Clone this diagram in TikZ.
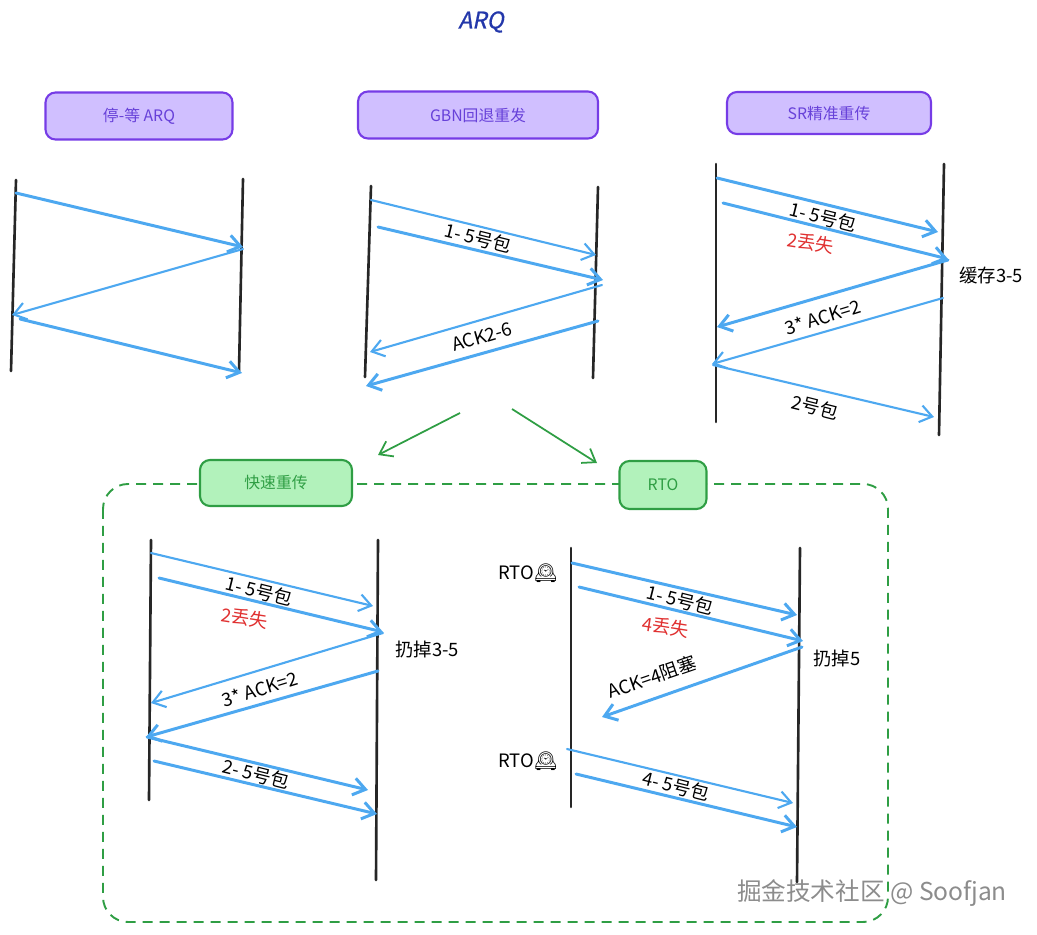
\documentclass[tikz,border=0pt]{standalone}
\usepackage{fontspec}
\setmainfont{Noto Sans CJK SC}
\newfontfamily\emojifont{Noto Emoji}
\newfontfamily\titlefont[FakeSlant=0.2, FakeBold=1]{Noto Sans CJK SC}
\usetikzlibrary{arrows.meta}
\definecolor{cus-blue}{RGB}{77,168,240}
\definecolor{cus-purp}{RGB}{208,191,255}
\definecolor{cus-purp1}{RGB}{118,60,230}
\definecolor{cus-purp2}{RGB}{103,65,217}
\definecolor{cus-green}{RGB}{178,242,187}
\definecolor{cus-green1}{RGB}{47,158,68}
\definecolor{cus-red}{RGB}{224,49,49}
\definecolor{cus-navy}{RGB}{35,55,170}
\definecolor{cus-grey}{RGB}{140,140,140}
\newcommand{\rtoclock}{RTO{\emojifont 🕰}}
\tikzset{
	life/.style={line width=1.5pt, black!85, line cap=round},
	msg/.style={cus-blue, line width=1.2pt, line cap=round, -{Straight Barb[length=0.24cm,width=0.34cm]}},
	msgb/.style={msg, line width=1.7pt},
	lbl/.style={font=\fontsize{10.5}{12}\selectfont, inner sep=0pt},
	lost/.style={lbl, text=cus-red},
	purpbox/.style={draw=cus-purp1, fill=cus-purp, line width=1.2pt, rounded corners=0.2cm, text=cus-purp2, font=\fontsize{9}{10}\selectfont},
	greenbox/.style={draw=cus-green1, fill=cus-green, line width=1.2pt, rounded corners=0.2cm, text=cus-green1, font=\fontsize{9}{10}\selectfont},
	group/.style={cus-green1, dash pattern=on 0.2cm off 0.14cm, line width=1.1pt, rounded corners=0.5cm},
	flow/.style={cus-green1, line width=1pt, -{Straight Barb[length=0.24cm,width=0.34cm]}},
}

\begin{document}
\begin{tikzpicture}[x=0.02cm, y=-0.02cm]
\useasboundingbox (0,0) rectangle (1037,935);
\node [text=cus-navy, font=\fontsize{13}{15}\titlefont] (title) at (481,22) {ARQ};

% protocol boxes
\node [purpbox, minimum width=3.74cm, minimum height=0.94cm] (saw) at (139,116) {停-等 ARQ};
\node [purpbox, minimum width=4.8cm, minimum height=0.94cm] (gbn) at (478,115) {GBN回退重发};
\node [purpbox, minimum width=4.08cm, minimum height=0.84cm] (sr) at (829,113) {SR精准重传};

% stop and wait
\draw [life] (16,180) -- (11,371);
\draw [life] (243,179) -- (239,371);
\draw [msgb] (16,193) -- (243,247);
\draw [msg] (243,249) -- (12,315);
\draw [msgb] (20,319) -- (242,373);

% go back n
\draw [life] (371,186) -- (365,377);
\draw [life] (598,187) -- (593,378);
\draw [msg] (371,200) -- (596,255);
\draw [msgb] (378,227) -- (603,280);
\draw [msg] (602,285) -- (370,352);
\draw [msgb] (598,321) -- (366,386);
\node [lbl, rotate=-14] (gbnsend) at (478,238) {1- 5号包};
\node [lbl, rotate=16] (gbnack) at (482,337) {ACK2-6};

% selective repeat
\draw [life] (716,164) -- (716,422);
\draw [life] (944,164) -- (939,435);
\draw [msgb] (717,178) -- (938,232);
\draw [msgb] (723,203) -- (948,259);
\draw [msgb] (948,260) -- (717,327);
\draw [msg] (943,298) -- (712,364);
\draw [msg] (713,365) -- (934,417);
\node [lbl, rotate=-14] (srsend) at (823,217) {1- 5号包};
\node [lost, rotate=-9] (srlost) at (811,243) {2丢失};
\node [lbl] (srbuf) at (991,276) {缓存3-5};
\node [lbl, rotate=17] (srack) at (823,317) {3* ACK=2};
\node [lbl, rotate=-14] (srresend) at (815,407) {2号包};

% gbn splits into two
\coordinate (splitl) at (460,413);
\coordinate (splitr) at (512,409);
\coordinate (fastin) at (378,455);
\coordinate (rtoin) at (597,463);
\draw [flow] (splitl) -- (fastin);
\draw [flow] (splitr) -- (rtoin);

\draw [group] (103,484) rectangle (888,922);
\node [greenbox, minimum width=3.04cm, minimum height=0.92cm] (fastre) at (276,483) {快速重传};
\node [greenbox, minimum width=1.74cm, minimum height=0.96cm] (rto) at (663,485) {RTO};

% fast retransmit
\draw [life] (151,540) -- (149,800);
\draw [life] (378,540) -- (376,880);
\draw [msg] (151,553) -- (373,606);
\draw [msgb] (159,578) -- (383,632);
\draw [msg] (383,633) -- (151,703);
\draw [msgb] (378,671) -- (146,737);
\draw [msgb] (147,737) -- (368,790);
\draw [msgb] (154,761) -- (377,814);
\node [lbl, rotate=-14] (fastsend) at (259,591) {1- 5号包};
\node [lost, rotate=-9] (fastlost) at (245,618) {2丢失};
\node [lbl] (fastdrop) at (427,650) {扔掉3-5};
\node [lbl, rotate=17] (fastack) at (260,689) {3* ACK=2};
\node [lbl, rotate=-14] (fastresend) at (256,774) {2- 5号包};

% retransmission timeout
\draw [life] (571,548) -- (571,807);
\draw [life] (800,548) -- (797,882);
\draw [msgb] (572,563) -- (797,615);
\draw [msgb] (579,587) -- (803,641);
\draw [msgb] (802,647) -- (602,717);
\draw [msg] (567,749) -- (793,803);
\draw [msgb] (576,774) -- (797,827);
\node [lbl] (rtoa) at (528,573) {\rtoclock};
\node [lbl] (rtob) at (528,761) {\rtoclock};
\node [lbl, rotate=-14] (rtosend) at (680,600) {1- 5号包};
\node [lost, rotate=-9] (rtolost) at (666,627) {4丢失};
\node [lbl] (rtodrop) at (837,659) {扔掉5};
\node [lbl, rotate=19] (rtoack) at (652,677) {ACK=4阻塞};
\node [lbl, rotate=-14] (rtoresend) at (676,786) {4- 5号包};

\node [text=cus-grey, font=\fontsize{14}{16}\selectfont] (mark) at (872,893) {掘金技术社区 @ Soofjan};
\end{tikzpicture}
\end{document}
